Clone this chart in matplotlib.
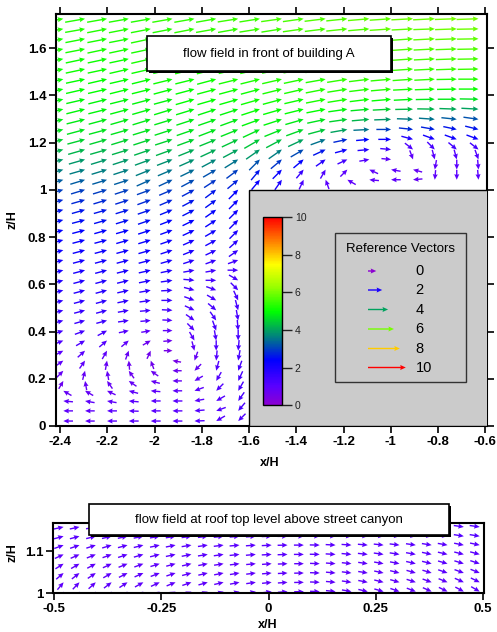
import numpy as np
import matplotlib.pyplot as plt
from matplotlib.colors import LinearSegmentedColormap, Normalize
from matplotlib.cm import ScalarMappable
from matplotlib.patches import Rectangle

plt.rc('font', family='Liberation Sans', size=9)
plt.rc('axes', unicode_minus=False)

# ---------------- data ----------------
# flow field in front of building A: arrow tip positions
x_front = [-2.386, -2.294, -2.201, -2.109, -2.016, -1.924, -1.831, -1.739, -1.646, -1.554,
           -1.461, -1.369, -1.276, -1.184, -1.091, -0.999, -0.906, -0.814, -0.721, -0.629]
# rows above roof level (top row first), all 20 columns
z_upper = [1.725, 1.682, 1.640, 1.597, 1.555, 1.512, 1.469, 1.427, 1.384, 1.342, 1.299,
           1.256, 1.214, 1.171, 1.129, 1.086, 1.043]
# rows below roof level (top row first), only the 9 columns left of the building
z_lower = [1.001, 0.958, 0.916, 0.873, 0.830, 0.788, 0.745, 0.703, 0.660, 0.617, 0.575, 0.532,
           0.490, 0.447, 0.404, 0.362, 0.319, 0.277, 0.234, 0.191, 0.149, 0.106, 0.064, 0.021]

# direction in degrees (0 = +x, 90 = +z)
ang_upper = [
    [10, 10, 10, 10, 10, 10, 10, 10, 9, 9, 8, 8, 7, 6, 5, 4, 3, 3, 2, 2],
    [10, 10, 11, 11, 11, 11, 11, 10, 10, 9, 9, 8, 7, 6, 5, 4, 3, 2, 2, 1],
    [11, 11, 11, 11, 12, 12, 12, 11, 11, 10, 10, 9, 8, 7, 6, 5, 4, 3, 2, 1],
    [11, 11, 12, 12, 12, 12, 12, 12, 12, 11, 11, 10, 9, 8, 6, 5, 4, 3, 2, 1],
    [11, 12, 12, 12, 13, 13, 13, 13, 12, 12, 11, 10, 9, 8, 7, 5, 4, 3, 2, 1],
    [12, 12, 12, 13, 13, 13, 14, 14, 13, 13, 12, 11, 10, 8, 7, 5, 4, 3, 2, 1],
    [12, 12, 13, 13, 14, 14, 14, 15, 14, 14, 13, 12, 10, 9, 7, 5, 4, 3, 1, 0],
    [12, 13, 13, 14, 14, 15, 15, 15, 15, 15, 14, 13, 11, 9, 7, 5, 3, 2, 1, 0],
    [13, 13, 14, 14, 15, 15, 16, 16, 16, 16, 15, 13, 11, 9, 7, 5, 3, 1, 0, -1],
    [13, 14, 14, 15, 16, 17, 17, 18, 18, 18, 16, 14, 11, 8, 5, 3, 1, -1, -2, -3],
    [14, 14, 15, 16, 17, 17, 18, 19, 20, 20, 18, 16, 12, 8, 5, 2, -2, -4, -6, -8],
    [14, 15, 15, 16, 17, 18, 19, 21, 22, 25, 22, 20, 15, 10, 3, 0, -6, -10, -12, -14],
    [15, 15, 16, 17, 18, 18, 20, 22, 25, 30, 28, 25, 20, 12, 5, 0, -15, -20, -20, -20],
    [15, 16, 16, 17, 19, 20, 22, 25, 28, 35, 35, 30, 25, 15, 5, -5, -38, -45, -40, -38],
    [15, 16, 17, 18, 20, 21, 24, 28, 32, 45, 40, 40, 35, 25, 10, -5, -70, -75, -75, -70],
    [16, 16, 17, 18, 22, 23, 26, 30, 37, 50, 45, 50, 60, 45, 155, 170, 165, -100, -90, -85],
    [16, 17, 17, 18, 24, 25, 28, 33, 40, 50, 55, 65, 110, 150, 175, 180, 185, -95, -90, -85],
]
spd_upper = [
    [5.3, 5.3, 5.3, 5.3, 5.3, 5.4, 5.4, 5.4, 5.5, 5.5, 5.6, 5.6, 5.7, 5.7, 5.8, 5.8, 5.9, 5.9, 6.0, 6.0],
    [5.3, 5.3, 5.3, 5.3, 5.3, 5.3, 5.4, 5.4, 5.4, 5.5, 5.5, 5.6, 5.6, 5.7, 5.7, 5.8, 5.8, 5.8, 5.9, 5.9],
    [5.2, 5.2, 5.2, 5.2, 5.3, 5.3, 5.3, 5.3, 5.4, 5.4, 5.5, 5.5, 5.6, 5.6, 5.7, 5.7, 5.7, 5.8, 5.8, 5.8],
    [5.2, 5.2, 5.2, 5.2, 5.2, 5.2, 5.3, 5.3, 5.3, 5.4, 5.4, 5.5, 5.5, 5.6, 5.6, 5.6, 5.7, 5.7, 5.7, 5.7],
    [5.1, 5.1, 5.1, 5.1, 5.2, 5.2, 5.2, 5.2, 5.3, 5.3, 5.4, 5.4, 5.5, 5.5, 5.5, 5.6, 5.6, 5.6, 5.6, 5.6],
    [5.1, 5.1, 5.1, 5.1, 5.1, 5.1, 5.2, 5.2, 5.2, 5.3, 5.3, 5.4, 5.4, 5.4, 5.5, 5.5, 5.5, 5.5, 5.5, 5.5],
    [5.0, 5.0, 5.0, 5.0, 5.0, 5.1, 5.1, 5.1, 5.2, 5.2, 5.3, 5.3, 5.3, 5.4, 5.4, 5.4, 5.4, 5.4, 5.3, 5.3],
    [5.0, 5.0, 5.0, 5.0, 5.0, 5.0, 5.0, 5.1, 5.1, 5.1, 5.2, 5.2, 5.3, 5.3, 5.3, 5.3, 5.2, 5.2, 5.1, 5.1],
    [4.9, 4.9, 4.9, 4.9, 4.9, 4.9, 5.0, 5.0, 5.0, 5.1, 5.1, 5.1, 5.2, 5.2, 5.1, 5.0, 4.9, 4.8, 4.8, 4.7],
    [4.9, 4.9, 4.9, 4.9, 4.9, 4.9, 4.9, 4.9, 4.9, 5.0, 5.0, 5.0, 5.0, 4.9, 4.7, 4.5, 4.3, 4.2, 4.1, 4.0],
    [4.8, 4.8, 4.8, 4.8, 4.8, 4.8, 4.8, 4.8, 4.8, 4.9, 4.9, 4.8, 4.7, 4.5, 4.2, 3.9, 3.6, 3.5, 3.3, 3.2],
    [4.7, 4.7, 4.7, 4.7, 4.7, 4.7, 4.7, 4.7, 4.7, 4.7, 4.7, 4.6, 4.4, 4.0, 3.5, 3.0, 2.8, 2.7, 2.6, 2.6],
    [4.5, 4.5, 4.5, 4.5, 4.5, 4.5, 4.5, 4.4, 4.4, 4.4, 4.3, 4.0, 3.5, 2.8, 2.4, 2.2, 1.9, 2.1, 2.2, 2.2],
    [4.2, 4.2, 4.2, 4.2, 4.2, 4.2, 4.1, 4.1, 4.0, 3.9, 3.6, 3.1, 2.6, 2.2, 1.8, 1.4, 1.2, 1.3, 1.4, 1.4],
    [3.9, 3.9, 3.9, 3.9, 3.9, 3.8, 3.8, 3.7, 3.5, 3.2, 2.9, 2.4, 1.8, 1.4, 1.1, 0.9, 0.9, 1.0, 1.1, 1.1],
    [3.6, 3.6, 3.6, 3.6, 3.6, 3.5, 3.4, 3.2, 3.0, 2.6, 2.3, 1.6, 1.2, 1.0, 0.9, 0.9, 0.8, 0.9, 1.0, 1.0],
    [3.3, 3.3, 3.3, 3.3, 3.3, 3.2, 3.1, 2.9, 2.7, 2.3, 2.0, 1.3, 1.0, 0.9, 0.9, 0.9, 0.8, 0.9, 1.0, 1.0],
]
ang_lower = [
    [16, 17, 17, 18, 20, 23, 28, 37, 45],
    [15, 16, 17, 18, 20, 23, 28, 36, 45],
    [15, 16, 16, 17, 19, 22, 27, 35, 45],
    [15, 15, 16, 17, 19, 21, 26, 33, 45],
    [15, 15, 16, 16, 18, 20, 25, 30, 45],
    [15, 15, 15, 16, 17, 19, 24, 28, 42],
    [15, 15, 15, 15, 16, 18, 22, 25, 35],
    [15, 15, 15, 15, 15, 16, 18, 20, 20],
    [15, 15, 15, 14, 13, 12, 10, 10, 0],
    [15, 15, 15, 14, 12, 8, -5, 0, -30],
    [15, 15, 15, 13, 10, 3, -15, -20, -45],
    [15, 15, 15, 12, 8, 0, -20, -30, -65],
    [15, 15, 15, 10, 5, -3, -25, -40, -75],
    [16, 16, 15, 8, 5, -3, -35, -55, -80],
    [18, 20, 28, 12, 10, 0, -45, -70, -85],
    [22, 30, 40, 40, 30, 5, -60, -80, -90],
    [28, 42, 60, 70, 65, 0, -75, -90, -95],
    [35, 55, 80, 95, 110, 170, -110, -95, -100],
    [45, 75, 100, 125, 145, 180, -135, -105, -110],
    [60, 100, 125, 145, 165, 180, -150, -120, -115],
    [150, 150, 155, 165, 175, 180, -160, -135, -120],
    [175, 170, 170, 175, 180, 180, -170, -150, -125],
    [180, 180, 180, 178, 180, 180, -175, -160, -130],
    [180, 180, 180, 180, 180, 180, -178, -150, -135],
]
spd_lower = [
    [3.0, 3.0, 3.0, 3.0, 3.0, 2.9, 2.8, 2.6, 2.4],
    [2.8, 2.8, 2.8, 2.8, 2.8, 2.7, 2.6, 2.5, 2.3],
    [2.6, 2.6, 2.6, 2.6, 2.6, 2.5, 2.5, 2.4, 2.2],
    [2.5, 2.5, 2.5, 2.5, 2.5, 2.4, 2.4, 2.3, 2.1],
    [2.4, 2.4, 2.4, 2.4, 2.4, 2.3, 2.3, 2.2, 2.0],
    [2.3, 2.3, 2.3, 2.3, 2.3, 2.2, 2.1, 2.0, 1.8],
    [2.2, 2.2, 2.2, 2.2, 2.2, 2.1, 2.0, 1.8, 1.6],
    [2.1, 2.1, 2.1, 2.1, 2.1, 2.0, 1.8, 1.6, 1.4],
    [2.0, 2.0, 2.0, 2.0, 2.0, 1.9, 1.6, 1.4, 1.3],
    [1.9, 1.9, 1.9, 1.9, 1.9, 1.8, 1.5, 1.3, 1.3],
    [1.8, 1.8, 1.8, 1.8, 1.7, 1.6, 1.4, 1.3, 1.3],
    [1.7, 1.7, 1.7, 1.7, 1.6, 1.5, 1.4, 1.3, 1.3],
    [1.6, 1.6, 1.6, 1.5, 1.4, 1.3, 1.3, 1.3, 1.3],
    [1.5, 1.5, 1.5, 1.4, 1.2, 1.1, 1.2, 1.3, 1.3],
    [1.4, 1.4, 1.3, 1.1, 0.9, 0.9, 1.1, 1.3, 1.3],
    [1.2, 1.2, 1.1, 0.9, 0.7, 0.7, 1.0, 1.2, 1.3],
    [1.0, 1.0, 0.9, 0.8, 0.6, 0.5, 0.9, 1.2, 1.3],
    [0.9, 0.9, 0.8, 0.7, 0.6, 0.5, 0.8, 1.1, 1.3],
    [0.8, 0.8, 0.8, 0.7, 0.7, 0.7, 0.8, 1.1, 1.3],
    [0.7, 0.8, 0.8, 0.8, 0.8, 0.8, 0.9, 1.1, 1.3],
    [0.8, 0.8, 0.8, 0.9, 0.9, 0.9, 1.0, 1.1, 1.3],
    [0.9, 0.9, 0.9, 1.0, 1.0, 1.0, 1.0, 1.1, 1.3],
    [0.9, 0.9, 1.0, 1.0, 1.0, 1.0, 1.1, 1.1, 1.3],
    [0.9, 0.9, 1.0, 1.0, 1.0, 1.0, 1.1, 1.1, 1.2],
]

# flow field at roof top level above street canyon
x_roof = [-0.478, -0.441, -0.403, -0.366, -0.329, -0.292, -0.254, -0.217, -0.180, -0.142,
          -0.105, -0.068, -0.030, 0.007, 0.044, 0.082, 0.119, 0.156, 0.193, 0.231,
          0.268, 0.305, 0.343, 0.380, 0.417, 0.455, 0.492]
z_roof = [1.157, 1.135, 1.114, 1.092, 1.070, 1.048, 1.026, 1.004]
ang_roof = [
    [12, 12, 11, 11, 10, 10, 9, 8, 7, 6, 5, 4, 3, 2, 1, 0, -1, -2, -3, -4, -5, -6, -6, -7, -7, -8, -8],
    [15, 15, 14, 13, 12, 11, 10, 9, 8, 7, 6, 5, 4, 2, 1, 0, -1, -2, -3, -4, -5, -6, -7, -8, -8, -9, -9],
    [20, 19, 18, 17, 15, 14, 12, 11, 9, 8, 7, 5, 4, 3, 1, 0, -1, -3, -4, -5, -6, -7, -8, -9, -10, -11, -12],
    [25, 24, 22, 20, 18, 16, 14, 12, 11, 9, 8, 6, 5, 3, 2, 0, -1, -3, -5, -6, -8, -9, -10, -12, -13, -14, -15],
    [32, 30, 28, 25, 22, 20, 17, 15, 13, 11, 9, 7, 5, 4, 2, 0, -2, -4, -6, -8, -10, -11, -13, -14, -16, -17, -18],
    [40, 38, 34, 30, 27, 24, 21, 18, 15, 13, 11, 9, 7, 5, 3, 1, -2, -5, -7, -9, -12, -14, -16, -17, -19, -20, -22],
    [50, 46, 42, 37, 33, 29, 25, 22, 19, 16, 13, 11, 8, 6, 4, 1, -2, -5, -8, -11, -14, -16, -18, -20, -22, -24, -26],
    [60, 55, 50, 45, 40, 35, 31, 27, 23, 20, 16, 13, 10, 7, 4, 1, -2, -6, -10, -13, -16, -19, -21, -24, -26, -28, -30],
]
spd_roof = [
    [1.0, 1.0, 1.0, 1.0, 1.0, 1.0, 1.0, 1.0, 1.0, 1.0, 1.0, 1.0, 1.0, 1.0, 1.0, 1.0, 1.0, 1.0, 1.0, 1.0, 1.0, 1.0, 1.0, 1.0, 1.0, 1.1, 1.1],
    [1.0, 1.0, 1.0, 1.0, 1.0, 1.0, 1.0, 1.0, 1.0, 1.0, 1.0, 1.0, 1.0, 1.0, 1.0, 1.0, 1.0, 1.0, 1.0, 1.0, 1.0, 1.0, 1.0, 1.0, 1.0, 1.1, 1.1],
    [1.0, 1.0, 1.0, 1.0, 1.0, 1.0, 1.0, 1.0, 1.0, 1.0, 1.0, 1.0, 1.0, 1.0, 1.0, 1.0, 1.0, 1.0, 1.0, 1.0, 1.0, 1.0, 1.0, 1.0, 1.0, 1.0, 1.0],
    [0.9, 0.9, 0.9, 0.9, 1.0, 1.0, 1.0, 1.0, 1.0, 1.0, 1.0, 1.0, 1.0, 1.0, 1.0, 1.0, 1.0, 1.0, 1.0, 1.0, 1.0, 1.0, 1.0, 1.0, 1.0, 1.0, 1.0],
    [0.9, 0.9, 0.9, 0.9, 0.9, 0.9, 0.9, 0.9, 0.9, 0.9, 0.9, 0.9, 0.9, 0.9, 0.9, 0.9, 0.9, 0.9, 0.9, 0.9, 0.9, 0.9, 1.0, 1.0, 1.0, 1.0, 1.0],
    [0.9, 0.9, 0.9, 0.9, 0.9, 0.9, 0.9, 0.9, 0.9, 0.9, 0.9, 0.9, 0.9, 0.9, 0.9, 0.9, 0.9, 0.9, 0.9, 0.9, 0.9, 0.9, 0.9, 0.9, 1.0, 1.0, 1.0],
    [0.9, 0.9, 0.9, 0.9, 0.9, 0.9, 0.9, 0.9, 0.9, 0.9, 0.9, 0.9, 0.9, 0.9, 0.9, 0.9, 0.9, 0.9, 0.9, 0.9, 0.9, 0.9, 0.9, 0.9, 0.9, 1.0, 1.0],
    [0.9, 0.9, 0.9, 0.9, 0.9, 0.9, 0.9, 0.9, 0.9, 0.9, 0.9, 0.9, 0.9, 0.9, 0.9, 0.9, 0.9, 0.9, 0.9, 0.9, 0.9, 0.9, 0.9, 0.9, 0.9, 0.9, 1.0],
]

ref_speeds = [0, 2, 4, 6, 8, 10]
cbar_ticks = [0, 2, 4, 6, 8, 10]
xt_front = [-2.4, -2.2, -2.0, -1.8, -1.6, -1.4, -1.2, -1.0, -0.8, -0.6]
xt_front_lbl = ['-2.4', '-2.2', '-2', '-1.8', '-1.6', '-1.4', '-1.2', '-1', '-0.8', '-0.6']
zt_front = [0, 0.2, 0.4, 0.6, 0.8, 1.0, 1.2, 1.4, 1.6]
zt_front_lbl = ['0', '0.2', '0.4', '0.6', '0.8', '1', '1.2', '1.4', '1.6']
xt_roof = [-0.5, -0.25, 0, 0.25, 0.5]
xt_roof_lbl = ['-0.5', '-0.25', '0', '0.25', '0.5']
zt_roof = [1.0, 1.1]
zt_roof_lbl = ['1', '1.1']

# ---------------- style ----------------
W, H = 497, 632
cmap = LinearSegmentedColormap.from_list('flow', [
    (0.00, (0.55, 0.00, 0.82)),
    (0.10, (0.35, 0.00, 1.00)),
    (0.24, (0.00, 0.00, 1.00)),
    (0.35, (0.00, 0.45, 0.55)),
    (0.50, (0.00, 1.00, 0.00)),
    (0.63, (0.60, 1.00, 0.00)),
    (0.75, (1.00, 1.00, 0.00)),
    (0.86, (1.00, 0.55, 0.00)),
    (1.00, (1.00, 0.00, 0.00))])
norm = Normalize(0, 10)
gray = '#cbcbcb'

qkw = dict(cmap=cmap, norm=norm, angles='uv', scale_units='dots', scale=1,
           units='dots', width=1.4, headwidth=3.6, headlength=4.0, headaxislength=3.6)


def fxy(px, py):
    # pixel position in the picture -> figure fraction
    return px / W, 1 - py / H


def vectors(x, z, ang, spd):
    X, Z = np.meshgrid(x, z)
    a = np.radians(np.array(ang, float))
    s = np.array(spd, float)
    L = 7.5 + 2.4 * s        # arrow length in pixels
    return (X.ravel(), Z.ravel(), (L * np.cos(a)).ravel(),
            (L * np.sin(a)).ravel(), s.ravel())


def style_axes(ax, xt, xl, zt, zl, mirror):
    ax.set_xticks(xt)
    ax.set_xticklabels(xl, fontweight='bold')
    ax.set_yticks(zt)
    ax.set_yticklabels(zl, fontweight='bold')
    ax.tick_params(direction='out', length=5, width=1.2, labelsize=9.5, pad=2,
                   top=mirror, right=mirror)
    for sp in ax.spines.values():
        sp.set_linewidth(1.5)


def title_box(x0, y0, x1, y1, text):
    fig.add_artist(Rectangle(fxy(x0 + 2, y1 + 2), (x1 - x0) / W, (y1 - y0) / H,
                             transform=fig.transFigure, fc='black', ec='none', zorder=5))
    fig.add_artist(Rectangle(fxy(x0, y1), (x1 - x0) / W, (y1 - y0) / H,
                             transform=fig.transFigure, fc='white', ec='black', lw=1.2, zorder=6))
    fig.text(*fxy((x0 + x1) / 2, (y0 + y1) / 2), text, ha='center', va='center',
             fontsize=9.5, zorder=7)


fig = plt.figure(figsize=(W / 100, H / 100), dpi=100)

# ---- top panel ----
ax = fig.add_axes([56 / W, 1 - 426 / H, 431 / W, 412 / H])
ax.set_xlim(-2.417, -0.593)
ax.set_ylim(0, 1.745)
ax.quiver(*vectors(x_front, z_upper, ang_upper, spd_upper), pivot='tip', **qkw)
ax.quiver(*vectors(x_front[:9], z_lower, ang_lower, spd_lower), pivot='tip', **qkw)
ax.add_patch(Rectangle((-1.6, 0), 1.2, 1.0, fc=gray, ec='black', lw=1, zorder=3))
style_axes(ax, xt_front, xt_front_lbl, zt_front, zt_front_lbl, True)

# reference vectors box
ax.add_patch(Rectangle(fxy(335, 382), 131 / W, 149 / H, transform=fig.transFigure,
                       fc=gray, ec='#333333', lw=1, zorder=4))
ax.text(*fxy(400, 249), 'Reference Vectors', transform=fig.transFigure,
        ha='center', va='center', fontsize=9.5, zorder=5)
ref_rows = [271, 290, 309.5, 329, 348.5, 367.5]
rs = np.array(ref_speeds, float)
ax.quiver([368 / W] * len(rs), [1 - r / H for r in ref_rows], 8.3 + 2.95 * rs,
          np.zeros_like(rs), rs, pivot='tail', transform=fig.transFigure, zorder=5, **qkw)
for v, r in zip(ref_speeds, ref_rows):
    ax.text(*fxy(415.5, r), str(v), transform=fig.transFigure, ha='left',
            va='center', fontsize=10.5, zorder=5)

# colour bar
cax = fig.add_axes([263.3 / W, 1 - 405.3 / H, 19 / W, 188 / H])
cb = fig.colorbar(ScalarMappable(norm=norm, cmap=cmap), cax=cax, ticks=cbar_ticks)
cb.outline.set_linewidth(1)
cax.tick_params(direction='out', length=7, width=1, labelsize=7.5, colors='#222222', pad=2)

title_box(147, 36, 391, 71, 'flow field in front of building A')
fig.text(*fxy(270, 463), 'x/H', ha='center', va='center', fontweight='bold', fontsize=9)
fig.text(*fxy(12, 220), 'z/H', ha='center', va='center', rotation=90,
         fontweight='bold', fontsize=9)

# ---- bottom panel ----
ax2 = fig.add_axes([53.3 / W, 1 - 593.3 / H, 430.7 / W, 70.6 / H])
ax2.set_xlim(-0.502, 0.502)
ax2.set_ylim(1.0, 1.167)
ax2.quiver(*vectors(x_roof, z_roof, ang_roof, spd_roof), pivot='tip', **qkw)
style_axes(ax2, xt_roof, xt_roof_lbl, zt_roof, zt_roof_lbl, False)

title_box(89, 504, 449, 535, 'flow field at roof top level above street canyon')
fig.text(*fxy(268, 625), 'x/H', ha='center', va='center', fontweight='bold', fontsize=9)
fig.text(*fxy(12, 553), 'z/H', ha='center', va='center', rotation=90,
         fontweight='bold', fontsize=9)

fig.savefig('out.png', dpi=100)
